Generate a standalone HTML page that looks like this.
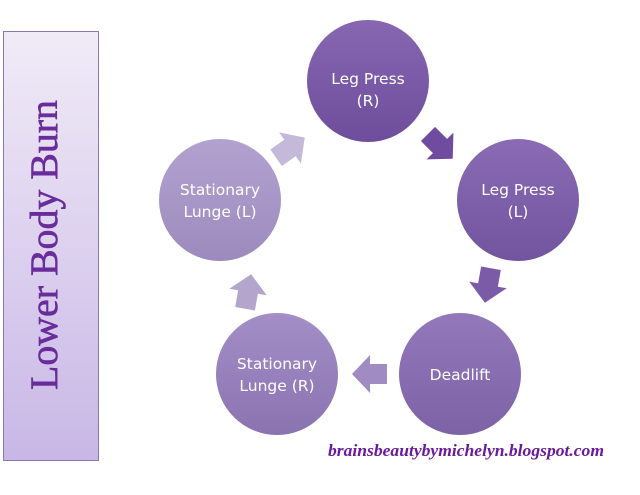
<!DOCTYPE html>
<html><head><style>
html,body{margin:0;padding:0;background:#fff;width:640px;height:495px;overflow:hidden}
</style></head><body>
<svg width="640" height="495" xmlns="http://www.w3.org/2000/svg">
<defs>
<linearGradient id="pan" x1="0" y1="0" x2="0" y2="1"><stop offset="0" stop-color="#f1ebf7"/><stop offset="1" stop-color="#c8b7e6"/></linearGradient>
<linearGradient id="c1" x1="0" y1="0" x2="0" y2="1"><stop offset="0" stop-color="#8767b2"/><stop offset="1" stop-color="#6e4e9c"/></linearGradient>
<linearGradient id="c2" x1="0" y1="0" x2="0" y2="1"><stop offset="0" stop-color="#8a6bb4"/><stop offset="1" stop-color="#72549f"/></linearGradient>
<linearGradient id="c3" x1="0" y1="0" x2="0" y2="1"><stop offset="0" stop-color="#9378ba"/><stop offset="1" stop-color="#7d62a6"/></linearGradient>
<linearGradient id="c4" x1="0" y1="0" x2="0" y2="1"><stop offset="0" stop-color="#a48ec7"/><stop offset="1" stop-color="#8a73b0"/></linearGradient>
<linearGradient id="c5" x1="0" y1="0" x2="0" y2="1"><stop offset="0" stop-color="#b2a2d0"/><stop offset="1" stop-color="#9d8abd"/></linearGradient>
</defs>
<rect x="3.5" y="31.5" width="95" height="429" fill="url(#pan)" stroke="#8c77ae"/>
<text transform="translate(57,245) rotate(-90)" text-anchor="middle" font-family="Liberation Serif, serif" font-size="39" fill="#6a2c9a" stroke="#6a2c9a" stroke-width="0.6" textLength="290" lengthAdjust="spacingAndGlyphs">Lower Body Burn</text>
<circle cx="368" cy="81" r="61" fill="url(#c1)"/>
<circle cx="518" cy="200" r="61" fill="url(#c2)"/>
<circle cx="460" cy="374" r="61" fill="url(#c3)"/>
<circle cx="277" cy="374" r="61" fill="url(#c4)"/>
<circle cx="220" cy="200" r="61" fill="url(#c5)"/>
<g font-family="DejaVu Sans, sans-serif" font-size="15.5" fill="#fff" text-anchor="middle">
<text x="368" y="84">Leg Press</text><text x="368" y="106">(R)</text>
<text x="518" y="195">Leg Press</text><text x="518" y="217">(L)</text>
<text x="460" y="380">Deadlift</text>
<text x="277" y="369">Stationary</text><text x="277" y="391">Lunge (R)</text>
<text x="220" y="195">Stationary</text><text x="220" y="217">Lunge (L)</text>
</g>
<g>
<polygon transform="translate(440,146) rotate(45)" points="-17,-10 0,-10 0,-19 18,0 0,19 0,10 -17,10" fill="#6f4c9f"/>
<polygon transform="translate(488,285) rotate(100)" points="-17,-10 0,-10 0,-19 18,0 0,19 0,10 -17,10" fill="#7b5ba8"/>
<polygon transform="translate(370,374) rotate(180)" points="-17,-10 0,-10 0,-19 18,0 0,19 0,10 -17,10" fill="#a08cc2"/>
<polygon transform="translate(248,292) rotate(-80)" points="-17,-10 0,-10 0,-19 18,0 0,19 0,10 -17,10" fill="#b3a5cc"/>
<polygon transform="translate(290,148) rotate(-35)" points="-17,-10 0,-10 0,-19 18,0 0,19 0,10 -17,10" fill="#c4b9d8"/>
</g>
<text x="604" y="456" text-anchor="end" font-family="Liberation Serif, serif" font-style="italic" font-weight="bold" font-size="17" fill="#6a1a9a" textLength="276" lengthAdjust="spacingAndGlyphs">brainsbeautybymichelyn.blogspot.com</text>
</svg>
</body></html>
